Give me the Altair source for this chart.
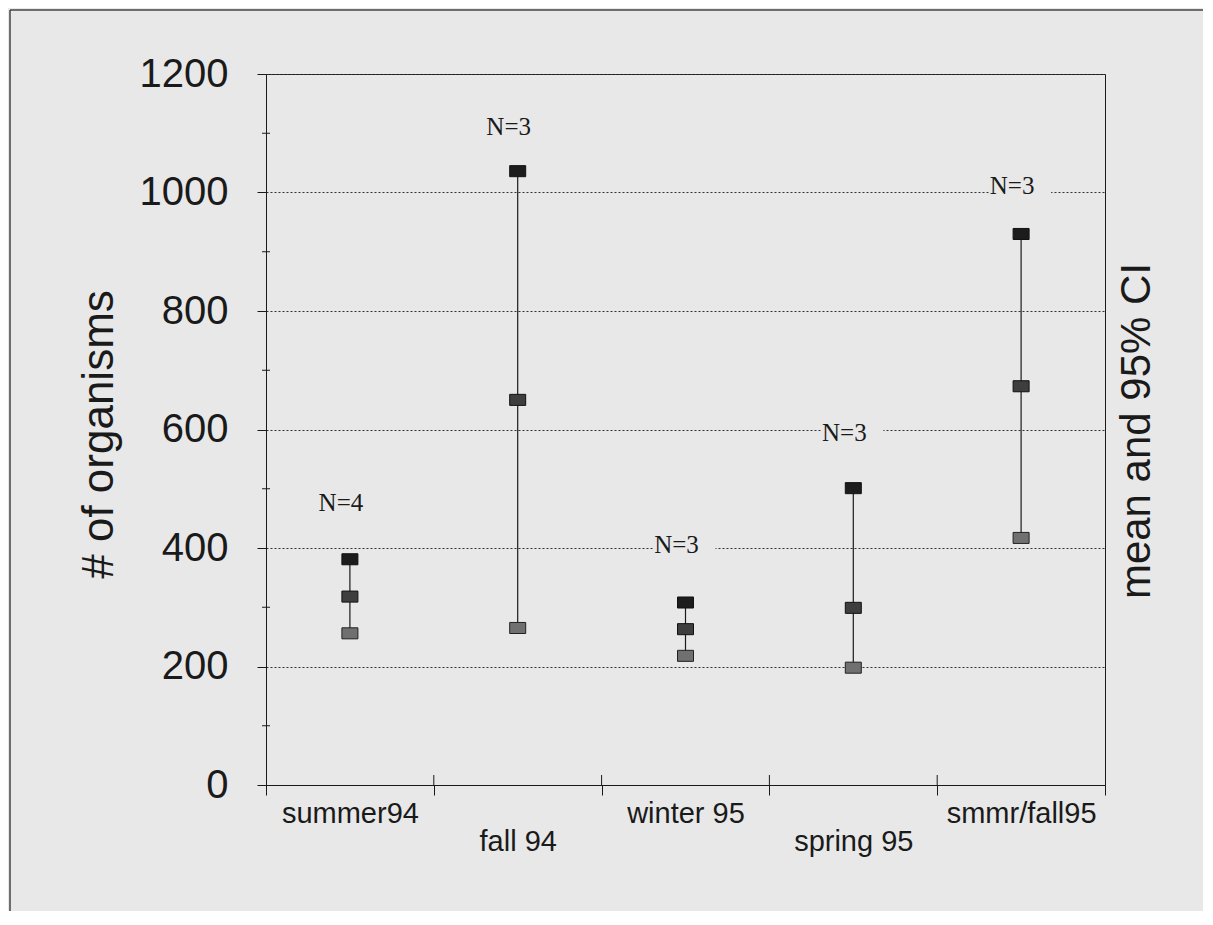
import altair as alt
import pandas as pd

seasons = ["summer94", "fall 94", "winter 95", "spring 95", "smmr/fall95"]
upper = [381, 1036, 308, 501, 930]
mean = [318, 650, 263, 299, 673]
lower = [256, 265, 218, 198, 417]
n_labels = ["N=4", "N=3", "N=3", "N=3", "N=3"]
label_pos = [476, 1110, 405, 594, 1011]
y_ticks = [0, 200, 400, 600, 800, 1000, 1200]
minor_ticks = [100, 300, 500, 700, 900, 1100]
inner_boundaries = ["fall 94", "winter 95", "spring 95", "smmr/fall95"]

W, H = 839, 711
BG = "#e8e8e8"
INK = "#1a1a1a"

df = pd.DataFrame({"season": seasons, "upper": upper, "mean": mean, "lower": lower,
                   "nlab": n_labels, "lpos": label_pos})
df_minor = pd.DataFrame({"v": minor_ticks})
df_bound = pd.DataFrame({"season": inner_boundaries})
df_title = pd.DataFrame({"t": ["mean and 95% CI"]})

xscale = alt.Scale(domain=seasons, paddingInner=0, paddingOuter=0)
yscale = alt.Scale(domain=[0, 1200], nice=False, zero=True)

xaxis = alt.Axis(title=None, tickBand="extent", tickSize=10, tickColor=INK, domainColor=INK,
                 labelFont="Liberation Sans", labelFontSize=29, labelColor=INK, labelAngle=0,
                 labelPadding=4, labelLineHeight=28,
                 labelExpr="indexof(['fall 94','spring 95'], datum.value) >= 0 ? [' ', datum.value] : datum.value",
                 grid=False, labelOverlap=False)
yaxis = alt.Axis(title="# of organisms", values=y_ticks, format="d", tickSize=9, tickColor=INK,
                 domainColor=INK,
                 labelFont="Liberation Sans", labelFontSize=40, labelColor=INK, labelPadding=29,
                 titleFont="Liberation Sans", titleFontSize=44, titleColor=INK, titleFontWeight="normal",
                 titleAngle=270, titleX=-167, titleY=360, titleAlign="center", titleBaseline="middle",
                 grid=True, gridColor="#333333", gridDash=[2, 2], gridWidth=1)

X = alt.X("season:N", scale=xscale, axis=xaxis, sort=seasons)

rect_shape = "M-1,-0.69 L1,-0.69 L1,0.69 L-1,0.69 Z"
bg_shape = "M-1,-0.42 L1,-0.42 L1,0.42 L-1,0.42 Z"

base = alt.Chart(df)

err = base.mark_rule(color=INK, strokeWidth=1.2).encode(
    x=X, y=alt.Y("lower:Q", scale=yscale, axis=yaxis), y2="upper:Q")

pt_up = base.mark_point(shape=rect_shape, size=256, filled=True, fill="#1c1c1c",
                        stroke="#111111", strokeWidth=1, opacity=1).encode(x=X, y=alt.Y("upper:Q", scale=yscale))
pt_mean = base.mark_point(shape=rect_shape, size=256, filled=True, fill="#3e3e3e",
                          stroke="#111111", strokeWidth=1, opacity=1).encode(x=X, y=alt.Y("mean:Q", scale=yscale))
pt_low = base.mark_point(shape=rect_shape, size=256, filled=True, fill="#707070",
                         stroke="#222222", strokeWidth=1, opacity=1).encode(x=X, y=alt.Y("lower:Q", scale=yscale))

lab_bg = base.mark_point(shape=bg_shape, size=3844, filled=True, fill=BG, opacity=1,
                         strokeWidth=0, xOffset=-1).encode(x=X, y=alt.Y("lpos:Q", scale=yscale))
lab = base.mark_text(font="Liberation Serif", fontSize=25, color=INK, baseline="middle",
                     align="center", dx=-9).encode(x=X, y=alt.Y("lpos:Q", scale=yscale), text="nlab:N")

minor = alt.Chart(df_minor).mark_rule(color=INK, strokeWidth=1).encode(
    y=alt.Y("v:Q", scale=yscale), x=alt.value(-4), x2=alt.value(4))

inner = alt.Chart(df_bound).mark_rule(color=INK, strokeWidth=1).encode(
    x=alt.X("season:N", scale=xscale, bandPosition=0, sort=seasons),
    y=alt.value(H - 10), y2=alt.value(H))

rtitle = alt.Chart(df_title).mark_text(font="Liberation Sans", fontSize=42, color=INK, angle=270,
                                       align="center", baseline="middle").encode(
    text="t:N", x=alt.value(871), y=alt.value(357))

frame_left = alt.Chart(df_title).mark_rule(color="#444444", strokeWidth=1.5).encode(
    x=alt.value(-256), y=alt.value(-64), y2=alt.value(H + 126))
frame_top = alt.Chart(df_title).mark_rule(color="#444444", strokeWidth=1.5).encode(
    y=alt.value(-64), x=alt.value(-256), x2=alt.value(W + 98))

chart = alt.layer(err, lab_bg, lab, pt_low, pt_mean, pt_up, minor, inner, rtitle,
                  frame_left, frame_top).properties(
    width=W, height=H,
    autosize=alt.AutoSizeParams(type="none"),
    padding={"left": 258, "top": 66, "right": 98, "bottom": 126},
    background=BG,
).configure_view(stroke=INK, strokeWidth=1, fill=BG, clip=False)

chart.save("out.html", embed_options={"renderer": "svg", "actions": False})
